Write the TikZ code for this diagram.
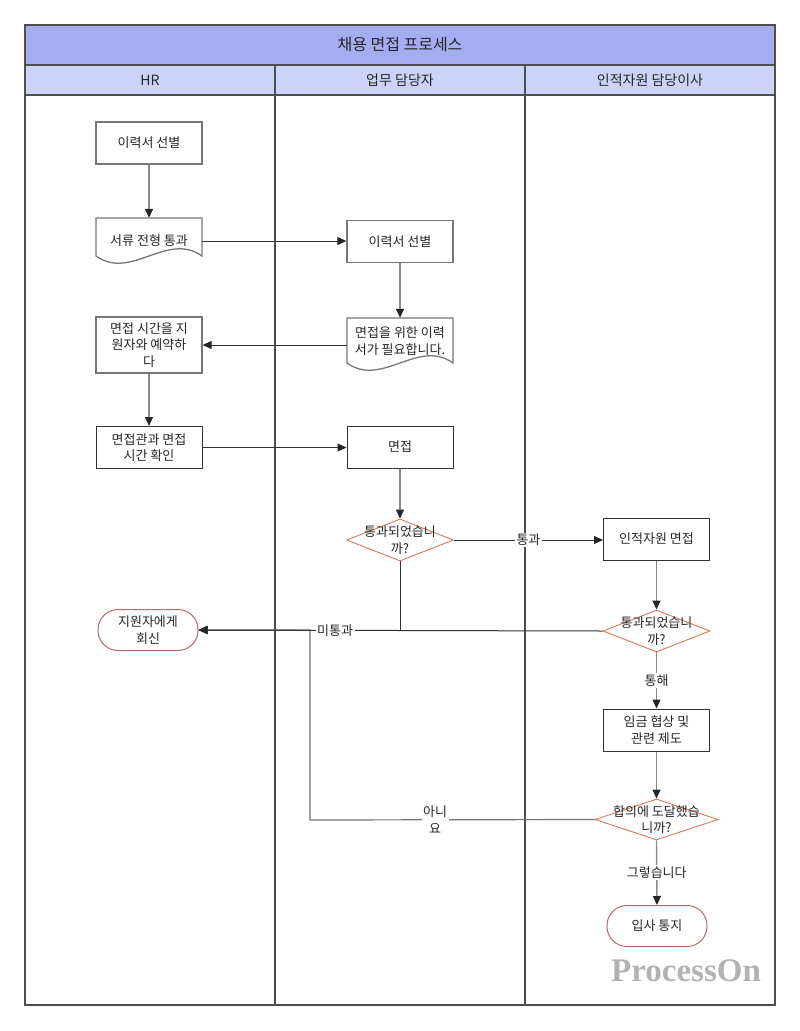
\documentclass[tikz,border=0pt]{standalone}
\usepackage{fontspec}
\setmainfont{Noto Sans CJK KR}
\newfontfamily\wmfont{Liberation Serif}
\usetikzlibrary{arrows.meta,shapes.geometric}
\definecolor{titlefill}{HTML}{A4ACF2}
\definecolor{headfill}{HTML}{CDD2F8}
\definecolor{framec}{HTML}{4E4E4E}
\definecolor{boxgray}{HTML}{777777}
\definecolor{decc}{HTML}{DD7755}
\definecolor{termc}{HTML}{B46A6A}
\definecolor{vgray}{HTML}{8A8A8A}
\definecolor{hdark}{HTML}{333333}
\begin{document}
\begin{tikzpicture}[x=1pt,y=-1pt,
  base/.style={font=\fontsize{13}{16.5}\selectfont, text=black!85, align=center, inner sep=1pt},
  procbox/.style={base, rectangle, draw=boxgray, line width=1.3pt, fill=white, minimum width=106pt, minimum height=42pt},
  procdark/.style={base, rectangle, draw=hdark, line width=1pt, fill=white, minimum width=106pt, minimum height=42pt},
  docnode/.style={base, rectangle, minimum width=106pt, minimum height=46pt},
  docshape/.style={draw=boxgray, line width=1.3pt, fill=white},
  decision/.style={diamond, draw=decc, line width=0.9pt, fill=white, inner sep=0pt, minimum width=107pt, minimum height=42pt},
  term/.style={base, rectangle, rounded corners=20pt, draw=termc, line width=1pt, fill=white, minimum width=100pt, minimum height=41pt},
  tip/.style={-{Triangle[length=9pt,width=8pt,color=black!85]}},
  vline/.style={tip, draw=vgray, line width=1.4pt},
  hline/.style={tip, draw=hdark, line width=1pt},
  mline/.style={tip, draw=black!55, line width=1.2pt},
  elab/.style={base, fill=white, inner sep=1.5pt},
  frame/.style={draw=framec, line width=2pt},
  lanehead/.style={font=\fontsize{14}{16}\selectfont, text=black!85}
]
\useasboundingbox (0,0) rectangle (800,1031);
% pool
\fill[titlefill] (25,25) rectangle (775,65);
\fill[headfill] (25,65) rectangle (775,95);
\draw[framec, line width=1.5pt] (25,65) -- (775,65);
\draw[framec, line width=1.5pt] (25,95) -- (775,95);
\draw[frame] (275,65) -- (275,1005);
\draw[frame] (525,65) -- (525,1005);
\draw[frame] (25,25) rectangle (775,1005);
\node[font=\fontsize{16}{18}\selectfont, text=black!85] (title) at (400,45) {채용 면접 프로세스};
\node[lanehead] (lane1) at (150,80) {HR};
\node[lanehead] (lane2) at (400,80) {업무 담당자};
\node[lanehead] (lane3) at (650,80) {인적자원 담당이사};

% document shapes
\draw[docshape] (96,218) -- (202,218) -- (202,256) .. controls (167,231) and (131,281) .. (96,256) -- cycle;
\draw[docshape] (347,318) -- (453,318) -- (453,363) .. controls (418,338) and (382,388) .. (347,363) -- cycle;

% nodes
\node[procbox] (A) at (149,143) {이력서 선별};
\node[docnode] (B) at (149,241) {서류 전형 통과};
\node[procbox] (C) at (400,241.5) {이력서 선별};
\node[docnode] (D) at (400,341) {면접을 위한 이력\\서가 필요합니다.};
\node[procbox, minimum height=56pt] (E) at (149,345) {면접 시간을 지\\원자와 예약하\\다};
\node[procdark] (F) at (149,447.5) {면접관과 면접\\시간 확인};
\node[procdark] (G) at (400,447) {면접};
\node[decision, label={[base]center:통과되었습니\\까?}] (H) at (400,540) {};
\node[procdark] (I) at (656.5,539) {인적자원 면접};
\node[decision, label={[base]center:통과되었습니\\까?}] (J) at (656.5,631) {};
\node[procdark] (K) at (656.5,730) {임금 협상 및\\관련 제도};
\node[decision, minimum width=123pt, minimum height=41pt, label={[base]center:합의에 도달했습\\니까?}] (L) at (656.5,819.5) {};
\node[term] (M) at (657,926) {입사 통지};
\node[term] (N) at (148,630) {지원자에게\\회신};
\coordinate (bend) at (310,820);

% connectors
\draw[vline] (A.south) -- (B.north);
\draw[hline] (B.east) -- (B.east -| C.west);
\draw[vline] (C.south) -- (D.north);
\draw[hline] (D.west |- E.east) -- (E.east);
\draw[vline] (E.south) -- (F.north);
\draw[hline] (F.east) -- (F.east -| G.west);
\draw[vline] (G.south) -- (H.north);
\draw[hline] (H.east) -- node[elab, pos=0.5]{통과} (H.east -| I.west);
\draw[hline] (H.south) |- (N.east);
\draw[mline] (L.west) -- node[elab, pos=0.56]{아니\\요} (bend) |- (N.east);
\draw[hline] (J.west) -- node[elab, pos=0.662]{미통과} (N.east);
\draw[vline] (I.south) -- (J.north);
\draw[vline] (J.south) -- node[elab]{통해} (K.north);
\draw[vline] (K.south) -- (L.north);
\draw[vline] (L.south) -- node[elab]{그렇습니다} (M.north);

% watermark
\node[font=\wmfont\bfseries\fontsize{33}{33}\selectfont, text=black!30] (wm) at (686,971) {ProcessOn};
\end{tikzpicture}
\end{document}
